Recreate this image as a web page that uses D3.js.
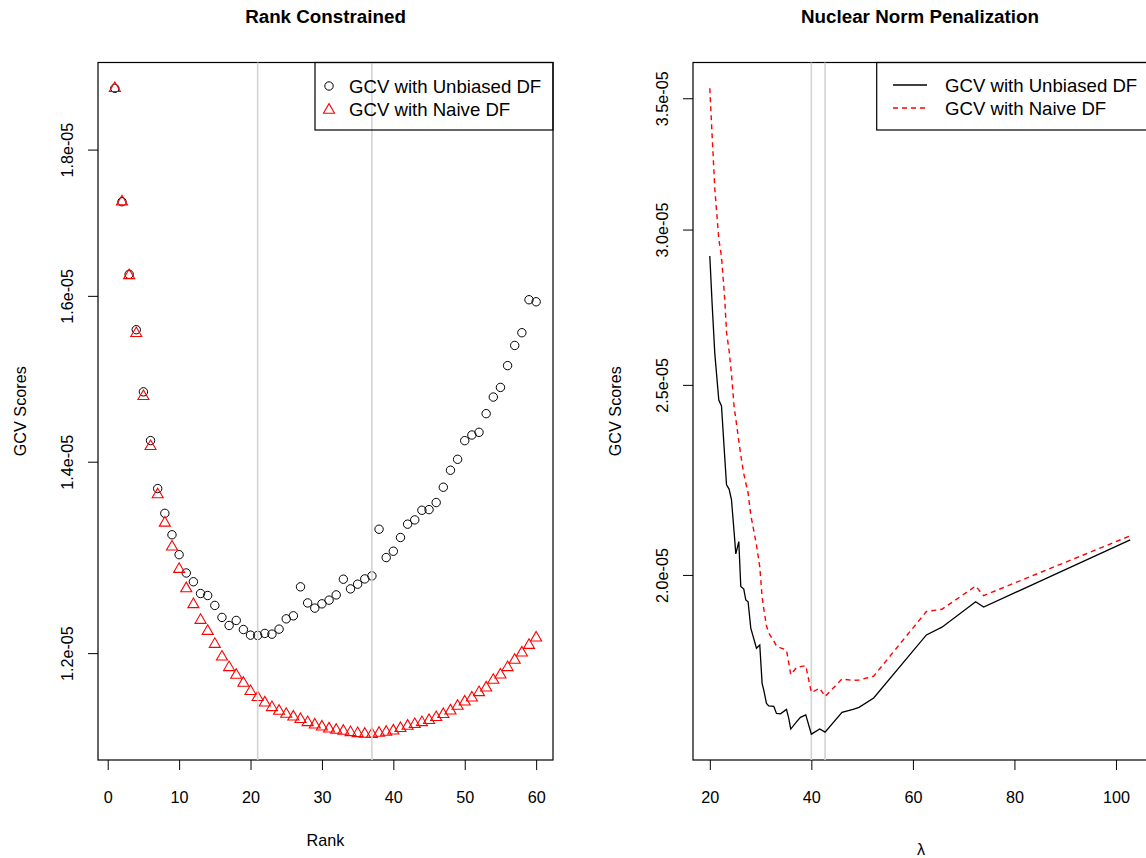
<!DOCTYPE html>
<html><head><meta charset="utf-8">
<script src="https://cdn.jsdelivr.net/npm/d3@7"></script>
<style>
body{margin:0;background:#fff}
svg{display:block}
text{font-family:"Liberation Sans",Arial,Helvetica,sans-serif;fill:#000}
</style>
</head><body>
<svg id="chart" width="1146" height="858"></svg>
<script>
// ---------------- data ----------------
const ranks = [1,2,3,4,5,6,7,8,9,10,11,12,13,14,15,16,17,18,19,20,21,22,23,24,25,26,27,28,29,30,
  31,32,33,34,35,36,37,38,39,40,41,42,43,44,45,46,47,48,49,50,51,52,53,54,55,56,57,58,59,60];
const rankUnbiased = [1.891e-5,1.726e-5,1.628e-5,1.557e-5,1.481e-5,1.424e-5,1.370e-5,1.343e-5,1.320e-5,1.299e-5,
  1.280e-5,1.271e-5,1.259e-5,1.257e-5,1.247e-5,1.235e-5,1.227e-5,1.232e-5,1.223e-5,1.2175e-5,
  1.2172e-5,1.2192e-5,1.2185e-5,1.2234e-5,1.2336e-5,1.2366e-5,1.2658e-5,1.2495e-5,1.2443e-5,1.2486e-5,
  1.2523e-5,1.2576e-5,1.2736e-5,1.2637e-5,1.2685e-5,1.2739e-5,1.2770e-5,1.3259e-5,1.2960e-5,1.3026e-5,
  1.3171e-5,1.3313e-5,1.3359e-5,1.3463e-5,1.3470e-5,1.3547e-5,1.3715e-5,1.3904e-5,1.4027e-5,1.4239e-5,
  1.4304e-5,1.4335e-5,1.4552e-5,1.4748e-5,1.4863e-5,1.5126e-5,1.5374e-5,1.5532e-5,1.5950e-5,1.5924e-5];
const rankNaive = [1.891e-5,1.726e-5,1.6265e-5,1.5524e-5,1.4756e-5,1.4174e-5,1.3634e-5,1.3326e-5,1.3072e-5,1.2839e-5,
  1.2641e-5,1.2480e-5,1.2323e-5,1.2214e-5,1.2087e-5,1.1964e-5,1.1863e-5,1.1790e-5,1.1714e-5,1.1636e-5,
  1.1580e-5,1.1530e-5,1.1487e-5,1.1453e-5,1.1425e-5,1.1400e-5,1.1377e-5,1.1349e-5,1.1327e-5,1.1309e-5,
  1.1291e-5,1.1279e-5,1.1270e-5,1.1258e-5,1.1249e-5,1.1243e-5,1.1242e-5,1.1252e-5,1.1261e-5,1.1273e-5,
  1.1295e-5,1.1316e-5,1.1331e-5,1.1349e-5,1.1368e-5,1.1395e-5,1.1423e-5,1.1456e-5,1.1499e-5,1.1539e-5,
  1.1576e-5,1.1626e-5,1.1670e-5,1.1742e-5,1.1792e-5,1.1863e-5,1.1933e-5,1.2003e-5,1.2077e-5,1.2149e-5];
const rankXTicks = [0,10,20,30,40,50,60];
const rankYTicks = [1.2e-5,1.4e-5,1.6e-5,1.8e-5];
const rankYTickLabels = ["1.2e-05","1.4e-05","1.6e-05","1.8e-05"];

const lambdas = [20,20.45,20.98,21.77,22.30,22.95,23.29,23.80,24.27,24.78,
  25.12,25.71,26.10,26.69,27.09,27.54,28.07,29.19,29.84,30.30,
  30.63,31.16,31.61,32.60,33.13,33.92,35.10,35.55,35.94,37.07,
  37.85,38.90,40.00,41.65,42.70,46.04,48.20,49.39,52.28,62.66,
  65.73,72.36,73.94,102.8];
const nucUnbiased = [2.908e-5,2.751e-5,2.594e-5,2.456e-5,2.439e-5,2.294e-5,2.223e-5,2.212e-5,2.184e-5,2.104e-5,
  2.050e-5,2.080e-5,1.973e-5,1.967e-5,1.942e-5,1.938e-5,1.879e-5,1.835e-5,1.842e-5,1.761e-5,
  1.747e-5,1.720e-5,1.715e-5,1.714e-5,1.700e-5,1.699e-5,1.708e-5,1.690e-5,1.669e-5,1.683e-5,
  1.692e-5,1.697e-5,1.659e-5,1.669e-5,1.663e-5,1.702e-5,1.708e-5,1.712e-5,1.731e-5,1.864e-5,
  1.881e-5,1.938e-5,1.926e-5,2.084e-5];
const nucNaive = [3.541e-5,3.352e-5,3.148e-5,2.967e-5,2.906e-5,2.762e-5,2.660e-5,2.602e-5,2.532e-5,2.437e-5,
  2.402e-5,2.341e-5,2.302e-5,2.252e-5,2.228e-5,2.202e-5,2.146e-5,2.072e-5,2.019e-5,1.949e-5,
  1.922e-5,1.884e-5,1.868e-5,1.851e-5,1.840e-5,1.836e-5,1.831e-5,1.804e-5,1.779e-5,1.794e-5,
  1.796e-5,1.798e-5,1.742e-5,1.751e-5,1.734e-5,1.770e-5,1.767e-5,1.768e-5,1.776e-5,1.916e-5,
  1.921e-5,1.974e-5,1.952e-5,2.094e-5];
const nucXTicks = [20,40,60,80,100];
const nucYTicks = [2.0e-5,2.5e-5,3.0e-5,3.5e-5];
const nucYTickLabels = ["2.0e-05","2.5e-05","3.0e-05","3.5e-05"];

const legendLabels = ["GCV with Unbiased DF","GCV with Naive DF"];
const titles = ["Rank Constrained","Nuclear Norm Penalization"];
const yLabel = "GCV Scores";
const xLabels = ["Rank","\u03BB"];

// ---------------- layout ----------------
const svg = d3.select("#chart");
const FS = 16.2, FSL = 18.6, FST = 18.8;
const yTop = 62.5, yBot = 760;
const PL = {x0:98, x1:553};
const PR = {x0:693, x1:1147};

function rlin(ext){const d=(ext[1]-ext[0])*0.04; return [ext[0]-d, ext[1]+d];}
function rlog(ext){const a=Math.log(ext[0]), b=Math.log(ext[1]); const d=(b-a)*0.04; return [Math.exp(a-d), Math.exp(b+d)];}

function drawAxes(g, x, y, xt, yt, ytl){
  const ax = g.append("g").attr("transform",`translate(0,${yBot})`)
    .call(d3.axisBottom(x).tickValues(xt).tickSize(10).tickSizeOuter(0));
  ax.selectAll("text").attr("y",43).attr("dy",null).style("font-size",FS+"px");
  const ay = g.append("g").attr("transform",`translate(${x.range()[0]},0)`)
    .call(d3.axisLeft(y).tickValues(yt).tickFormat((d,i)=>ytl[i]).tickSize(10).tickSizeOuter(0));
  ay.selectAll("text").attr("x",0).attr("dy","0.35em").attr("text-anchor","middle")
    .attr("transform","translate(-31,0) rotate(-90)").style("font-size",FS+"px");
  g.selectAll(".domain").attr("stroke","none");
  g.selectAll(".tick line").attr("stroke","#000").attr("stroke-width",1);
  g.append("rect").attr("x",x.range()[0]).attr("y",yTop)
    .attr("width",x.range()[1]-x.range()[0]).attr("height",yBot-yTop)
    .attr("fill","none").attr("stroke","#000").attr("stroke-width",1.2);
}

// triangle (R pch=2 geometry)
function triPath(cx, cy, rad){
  const r = 1.5551*rad, xc = 1.3468*rad, yc = 0.7776*rad;
  return `M${cx},${cy-r}L${cx+xc},${cy+yc}L${cx-xc},${cy+yc}Z`;
}

// ---------------- left panel ----------------
{
  const g = svg.append("g");
  const x = d3.scaleLinear().domain(rlin(d3.extent(ranks))).range([PL.x0, PL.x1]);
  const y = d3.scaleLog().domain(rlog(d3.extent(rankUnbiased.concat(rankNaive)))).range([yBot, yTop]);
  drawAxes(g, x, y, rankXTicks, rankYTicks, rankYTickLabels);

  g.selectAll("circle.pt").data(ranks).join("circle").attr("class","pt")
    .attr("cx",(d)=>x(d)).attr("cy",(d,i)=>y(rankUnbiased[i])).attr("r",4.2)
    .attr("fill","none").attr("stroke","#000").attr("stroke-width",1);
  g.selectAll("path.tri").data(ranks).join("path").attr("class","tri")
    .attr("d",(d,i)=>triPath(x(d), y(rankNaive[i]), 4.1))
    .attr("fill","none").attr("stroke","#ff0000").attr("stroke-width",1.1);

  const vl = [ranks[d3.minIndex(rankUnbiased)], ranks[d3.minIndex(rankNaive)]];
  g.selectAll("line.vl").data(vl).join("line").attr("class","vl")
    .attr("x1",d=>x(d)).attr("x2",d=>x(d)).attr("y1",yTop).attr("y2",yBot)
    .attr("stroke","#d3d3d3").attr("stroke-width",1.6);

  const lg = g.append("g");
  lg.append("rect").attr("x",315).attr("y",yTop).attr("width",PL.x1-315).attr("height",67.5)
    .attr("fill","none").attr("stroke","#000").attr("stroke-width",1.2);
  lg.append("circle").attr("cx",329).attr("cy",86).attr("r",4.2).attr("fill","none").attr("stroke","#000");
  lg.append("path").attr("d",triPath(329,110,4.1)).attr("fill","none").attr("stroke","#ff0000").attr("stroke-width",1.1);
  lg.selectAll("text").data(legendLabels).join("text")
    .attr("x",349).attr("y",(d,i)=>86+i*23.5).attr("dy","0.35em").style("font-size",FSL+"px").text(d=>d);

  g.append("text").attr("x",(PL.x0+PL.x1)/2).attr("y",23).attr("text-anchor","middle")
    .style("font-size",FST+"px").style("font-weight","bold").text(titles[0]);
  g.append("text").attr("x",(PL.x0+PL.x1)/2).attr("y",846).attr("text-anchor","middle")
    .style("font-size",FS+"px").text(xLabels[0]);
  g.append("text").attr("transform",`translate(20,${(yTop+yBot)/2}) rotate(-90)`).attr("dy","0.35em")
    .attr("text-anchor","middle").style("font-size",FS+"px").text(yLabel);
}

// ---------------- right panel ----------------
{
  const g = svg.append("g");
  const x = d3.scaleLinear().domain(rlin(d3.extent(lambdas))).range([PR.x0, PR.x1]);
  const y = d3.scaleLog().domain(rlog(d3.extent(nucUnbiased.concat(nucNaive)))).range([yBot, yTop]);
  drawAxes(g, x, y, nucXTicks, nucYTicks, nucYTickLabels);

  const vl = [lambdas[d3.minIndex(nucUnbiased)], lambdas[d3.minIndex(nucNaive)]];
  g.selectAll("line.vl").data(vl).join("line").attr("class","vl")
    .attr("x1",d=>x(d)).attr("x2",d=>x(d)).attr("y1",yTop).attr("y2",yBot)
    .attr("stroke","#d3d3d3").attr("stroke-width",1.6);

  const line = d3.line().x(d=>x(d[0])).y(d=>y(d[1]));
  g.append("path").datum(lambdas.map((l,i)=>[l,nucUnbiased[i]])).attr("d",line)
    .attr("fill","none").attr("stroke","#000").attr("stroke-width",1.3);
  g.append("path").datum(lambdas.map((l,i)=>[l,nucNaive[i]])).attr("d",line)
    .attr("fill","none").attr("stroke","#ff0000").attr("stroke-width",1.4).attr("stroke-dasharray","5,4");

  const lg = g.append("g");
  lg.append("rect").attr("x",876.7).attr("y",yTop).attr("width",PR.x1-876.7).attr("height",67.5)
    .attr("fill","none").attr("stroke","#000").attr("stroke-width",1.2);
  lg.append("line").attr("x1",893).attr("x2",927).attr("y1",85).attr("y2",85).attr("stroke","#000").attr("stroke-width",1.3);
  lg.append("line").attr("x1",893).attr("x2",927).attr("y1",108).attr("y2",108).attr("stroke","#ff0000")
    .attr("stroke-width",1.4).attr("stroke-dasharray","5,4");
  lg.selectAll("text").data(legendLabels).join("text")
    .attr("x",945).attr("y",(d,i)=>85+i*23).attr("dy","0.35em").style("font-size",FSL+"px").text(d=>d);

  g.append("text").attr("x",(PR.x0+PR.x1)/2).attr("y",23).attr("text-anchor","middle")
    .style("font-size",FST+"px").style("font-weight","bold").text(titles[1]);
  g.append("text").attr("x",921).attr("y",855).attr("text-anchor","middle")
    .style("font-size",FS+"px").text(xLabels[1]);
  g.append("text").attr("transform",`translate(615,${(yTop+yBot)/2}) rotate(-90)`).attr("dy","0.35em")
    .attr("text-anchor","middle").style("font-size",FS+"px").text(yLabel);
}
</script>
</body></html>
